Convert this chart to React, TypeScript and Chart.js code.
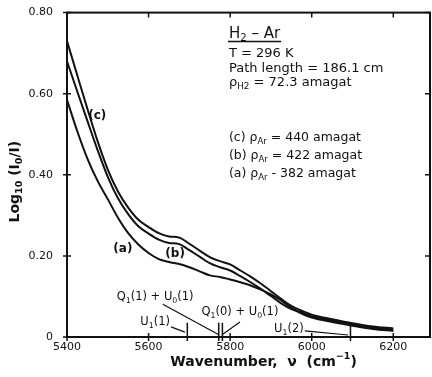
import React, { useEffect, useRef } from "react";
import { Chart, registerables } from "chart.js";

Chart.register(...registerables);

// ---- data ----
const WAVENUMBER = [
  5400, 5425, 5450, 5475, 5500, 5525, 5550, 5575, 5600, 5625, 5650, 5675, 5700, 5725, 5750,
  5775, 5800, 5825, 5850, 5875, 5900, 5925, 5950, 5975, 6000, 6050, 6100, 6150, 6200,
];
const CURVE_C = [
  0.73, 0.646, 0.563, 0.483, 0.413, 0.359, 0.319, 0.289, 0.271, 0.256, 0.248, 0.245, 0.23, 0.213, 0.197,
  0.187, 0.179, 0.164, 0.149, 0.132, 0.113, 0.094, 0.077, 0.065, 0.055, 0.044, 0.034, 0.026, 0.021,
];
const CURVE_B = [
  0.68, 0.606, 0.533, 0.461, 0.395, 0.342, 0.303, 0.273, 0.255, 0.24, 0.232, 0.229, 0.214, 0.198, 0.182,
  0.172, 0.164, 0.15, 0.135, 0.119, 0.101, 0.083, 0.069, 0.061, 0.051, 0.04, 0.031, 0.023, 0.018,
];
const CURVE_A = [
  0.585, 0.508, 0.44, 0.385, 0.34, 0.294, 0.256, 0.228, 0.207, 0.192, 0.185, 0.18, 0.172, 0.162, 0.152,
  0.148, 0.142, 0.135, 0.127, 0.117, 0.105, 0.09, 0.072, 0.058, 0.048, 0.037, 0.028, 0.02, 0.015,
];
const X_TICKS = [5400, 5600, 5800, 6000, 6200];
const Y_TICKS = [0, 0.2, 0.4, 0.6, 0.8];
const X_MIN = 5400;
const X_MAX = 6290;
const Y_MIN = 0;
const Y_MAX = 0.8;

// band positions (cm^-1) marked on the axis
const BAND_POS = [5695, 5772, 5781, 6095];

const FONT = '"DejaVu Sans", sans-serif';
type Seg = [string, string?];

function drawRich(
  ctx: CanvasRenderingContext2D,
  segs: Seg[],
  x: number,
  y: number,
  size: number,
  align: "left" | "center" = "left",
  weight = "normal"
) {
  const parts = segs.map(([t, m]) => {
    const s = m ? size * 0.68 : size;
    ctx.font = `${weight} ${s}px ${FONT}`;
    return { t, m, s, w: ctx.measureText(t).width };
  });
  const total = parts.reduce((a, p) => a + p.w, 0);
  let cx = align === "center" ? x - total / 2 : x;
  ctx.textBaseline = "middle";
  ctx.textAlign = "left";
  for (const p of parts) {
    ctx.font = `${weight} ${p.s}px ${FONT}`;
    const dy = p.m === "sub" ? size * 0.32 : p.m === "sup" ? -size * 0.38 : 0;
    ctx.fillText(p.t, cx, y + dy);
    cx += p.w;
  }
  return total;
}

const annotPlugin = {
  id: "annot",
  afterDraw(chart: any) {
    const ctx: CanvasRenderingContext2D = chart.ctx;
    const xs = chart.scales.x;
    const ys = chart.scales.y;
    const a = chart.chartArea;
    const X = (v: number) => xs.getPixelForValue(v);
    const Y = (v: number) => ys.getPixelForValue(v);
    ctx.save();
    ctx.strokeStyle = "#111";
    ctx.fillStyle = "#111";
    ctx.lineCap = "butt";

    // frame
    ctx.lineWidth = 2;
    ctx.strokeRect(a.left, a.top, a.right - a.left, a.bottom - a.top);

    // ticks
    ctx.lineWidth = 1.5;
    ctx.beginPath();
    for (const v of X_TICKS) {
      const px = X(v);
      ctx.moveTo(px, a.bottom - 4);
      ctx.lineTo(px, a.bottom + 4);
      ctx.moveTo(px, a.top);
      ctx.lineTo(px, a.top + 5);
    }
    for (const v of Y_TICKS) {
      const py = Y(v);
      ctx.moveTo(a.left - 4, py);
      ctx.lineTo(a.left + 4, py);
      ctx.moveTo(a.right - 5, py);
      ctx.lineTo(a.right, py);
    }
    // band markers
    for (const v of BAND_POS) {
      ctx.moveTo(X(v), Y(0.035));
      ctx.lineTo(X(v), a.bottom + 4);
    }
    ctx.stroke();

    // leader lines
    ctx.lineWidth = 1.2;
    const leaders: [number, number, number, number][] = [
      [5655, 0.025, 5689, 0.012],
      [5635, 0.081, 5770, 0.007],
      [5824, 0.037, 5782, 0.007],
      [5983, 0.015, 6089, 0.005],
    ];
    ctx.beginPath();
    for (const [x1, y1, x2, y2] of leaders) {
      ctx.moveTo(X(x1), Y(y1));
      ctx.lineTo(X(x2), Y(y2));
    }
    ctx.stroke();

    // band labels
    drawRich(ctx, [["U"], ["1", "sub"], ["(1)"]], X(5616), Y(0.036), 11.5, "center");
    drawRich(ctx, [["Q"], ["1", "sub"], ["(1) + U"], ["0", "sub"], ["(1)"]], X(5616), Y(0.098), 11.5, "center");
    drawRich(ctx, [["Q"], ["1", "sub"], ["(0) + U"], ["0", "sub"], ["(1)"]], X(5824), Y(0.061), 11.5, "center");
    drawRich(ctx, [["U"], ["1", "sub"], ["(2)"]], X(5944), Y(0.019), 11.5, "center");

    // curve labels
    drawRich(ctx, [["(c)"]], X(5474), Y(0.545), 12, "center", "bold");
    drawRich(ctx, [["(b)"]], X(5665), Y(0.206), 12, "center", "bold");
    drawRich(ctx, [["(a)"]], X(5537), Y(0.218), 12, "center", "bold");

    // info block
    const ix = X(5797);
    const w = drawRich(ctx, [["H"], ["2", "sub"], [" – Ar"]], ix, Y(0.748), 15);
    ctx.lineWidth = 1.5;
    ctx.beginPath();
    ctx.moveTo(ix - 1, Y(0.729));
    ctx.lineTo(ix + w + 1, Y(0.729));
    ctx.stroke();
    drawRich(ctx, [["T = 296 K"]], ix, Y(0.699), 13);
    drawRich(ctx, [["Path length = 186.1 cm"]], ix, Y(0.663), 13);
    drawRich(ctx, [["ρ"], ["H2", "sub"], [" = 72.3 amagat"]], ix, Y(0.628), 13);
    drawRich(ctx, [["(c) ρ"], ["Ar", "sub"], [" = 440 amagat"]], ix, Y(0.491), 12.5);
    drawRich(ctx, [["(b) ρ"], ["Ar", "sub"], [" = 422 amagat"]], ix, Y(0.447), 12.5);
    drawRich(ctx, [["(a) ρ"], ["Ar", "sub"], [" - 382 amagat"]], ix, Y(0.402), 12.5);

    // axis titles
    drawRich(ctx, [["Wavenumber,  ν  (cm"], ["−1", "sup"], [")"]], X(5882), a.bottom + 25, 14, "center", "bold");
    ctx.save();
    ctx.translate(15, Y(0.383));
    ctx.rotate(-Math.PI / 2);
    drawRich(ctx, [["Log"], ["10", "sub"], [" (I"], ["0", "sub"], ["/I)"]], 0, 0, 14, "center", "bold");
    ctx.restore();

    ctx.restore();
  },
};

export default function App() {
  const ref = useRef<HTMLCanvasElement | null>(null);
  useEffect(() => {
    if (!ref.current) return;
    const mk = (vals: number[]) => WAVENUMBER.map((x, i) => ({ x, y: vals[i] }));
    const ds = (label: string, vals: number[]) => ({
      label,
      data: mk(vals),
      borderColor: "#111",
      borderWidth: 2,
      pointRadius: 0,
      fill: false,
      cubicInterpolationMode: "monotone" as const,
    });
    const chart = new Chart(ref.current, {
      type: "line",
      data: { datasets: [ds("c", CURVE_C), ds("b", CURVE_B), ds("a", CURVE_A)] },
      options: {
        animation: false,
        responsive: false,
        maintainAspectRatio: false,
        layout: { padding: { top: 11, right: 2, left: 0, bottom: 0 } },
        plugins: { legend: { display: false }, tooltip: { enabled: false } },
        scales: {
          x: {
            type: "linear",
            min: X_MIN,
            max: X_MAX,
            grid: { display: false },
            border: { display: false },
            afterBuildTicks: (s: any) => {
              s.ticks = X_TICKS.map((v) => ({ value: v }));
            },
            afterFit: (s: any) => {
              s.height = 40;
            },
            ticks: {
              font: { family: FONT, size: 11 },
              color: "#111",
              padding: -4,
              maxRotation: 0,
              autoSkip: false,
              callback: (v: any) => String(v),
            },
          },
          y: {
            type: "linear",
            min: Y_MIN,
            max: Y_MAX,
            grid: { display: false },
            border: { display: false },
            afterBuildTicks: (s: any) => {
              s.ticks = Y_TICKS.map((v) => ({ value: v }));
            },
            afterFit: (s: any) => {
              s.width = 67;
            },
            ticks: {
              font: { family: FONT, size: 11 },
              color: "#111",
              padding: 6,
              callback: (v: any) => (Number(v) === 0 ? "0" : Number(v).toFixed(2)),
            },
          },
        },
      },
      plugins: [annotPlugin],
    });
    return () => chart.destroy();
  }, []);
  return (
    <div style={{ position: "fixed", left: 0, top: 0, width: 432, height: 377, background: "#fff" }}>
      <canvas ref={ref} width={432} height={377} style={{ display: "block" }} />
    </div>
  );
}
